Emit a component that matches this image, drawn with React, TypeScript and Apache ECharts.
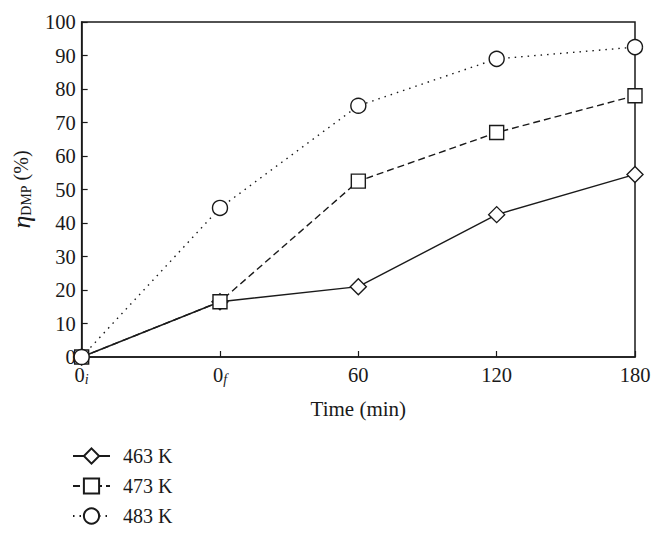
import React, { useEffect, useRef } from "react";
import * as echarts from "echarts";

const categories = ["0i", "0f", "60", "120", "180"];
const yTicks = [0, 100, 10];
const series463 = [0, 16.5, 21, 42.5, 54.5];
const series473 = [0, 16.5, 52.5, 67, 78];
const series483 = [0, 44.5, 75, 89, 92.5];
const seriesNames = ["463 K", "473 K", "483 K"];

const FONT = "Liberation Serif";
const INK = "#1a1a1a";

export default function App() {
  const ref = useRef<HTMLDivElement>(null);
  useEffect(() => {
    if (!ref.current) return;
    const chart = echarts.init(ref.current, undefined, { renderer: "svg" });
    const mk = (name: string, data: number[], symbol: string, size: number, type: any) => ({
      name,
      type: "line",
      data,
      symbol,
      symbolSize: size,
      showAllSymbol: true,
      clip: false,
      lineStyle: { color: INK, width: 1.4, type },
      itemStyle: { color: "#fff", borderColor: INK, borderWidth: 1.4 },
      emphasis: { disabled: true },
    });
    chart.setOption({
      animation: false,
      textStyle: { fontFamily: FONT, color: INK },
      grid: {
        left: 81.5,
        right: 26,
        top: 22,
        bottom: 181,
        show: true,
        borderColor: INK,
        borderWidth: 1.5,
        containLabel: false,
      },
      legend: {
        orient: "vertical",
        left: 72,
        top: 446,
        padding: 0,
        itemWidth: 37,
        itemHeight: 19,
        itemGap: 10,
        data: seriesNames,
        textStyle: { fontFamily: FONT, fontSize: 20, color: INK, padding: [0, 0, 0, 8] },
      },
      xAxis: {
        type: "category",
        data: categories,
        boundaryGap: false,
        name: "Time (min)",
        nameLocation: "middle",
        nameGap: 41,
        nameTextStyle: { fontFamily: FONT, fontSize: 21, color: INK },
        axisLine: { lineStyle: { color: INK, width: 1.5 } },
        axisTick: { inside: true, length: 6, lineStyle: { color: INK, width: 1.2 }, alignWithLabel: true },
        axisLabel: {
          margin: 7,
          interval: 0,
          fontFamily: FONT,
          fontSize: 20,
          color: INK,
          formatter: (v: string) => {
            if (v === "0i") return "{n|0}{s|i}";
            if (v === "0f") return "{n|0}{s|f}";
            return "{n|" + v + "}";
          },
          rich: {
            n: { fontFamily: FONT, fontSize: 20.5, lineHeight: 22, color: INK },
            s: { fontFamily: FONT, fontSize: 14, fontStyle: "italic", lineHeight: 12, verticalAlign: "bottom", color: INK },
          },
        },
        splitLine: { show: false },
      },
      yAxis: {
        type: "value",
        min: yTicks[0],
        max: yTicks[1],
        interval: yTicks[2],
        name: "{e|η}{d|DMP}{p| (%)}",
        nameLocation: "middle",
        nameGap: 45,
        nameTextStyle: {
          fontFamily: FONT,
          color: INK,
          rich: {
            e: { fontFamily: FONT, fontSize: 26, fontStyle: "italic", lineHeight: 24, color: INK },
            d: { fontFamily: FONT, fontSize: 14, lineHeight: 14, verticalAlign: "bottom", color: INK },
            p: { fontFamily: FONT, fontSize: 20, lineHeight: 24, color: INK },
          },
        },
        axisLine: { show: true, lineStyle: { color: INK, width: 1.5 } },
        axisTick: { show: true, inside: true, length: 6, lineStyle: { color: INK, width: 1.2 } },
        axisLabel: { margin: 6, fontFamily: FONT, fontSize: 20.5, color: INK },
        splitLine: { show: false },
      },
      series: [
        mk(seriesNames[0], series463, "diamond", 16, "solid"),
        mk(seriesNames[1], series473, "rect", 14, [7, 4]),
        mk(seriesNames[2], series483, "circle", 15, [1.5, 5]),
      ],
    });
    return () => chart.dispose();
  }, []);
  return (
    <div
      ref={ref}
      style={{ position: "fixed", left: 0, top: 0, width: 661, height: 538, background: "#fff" }}
    />
  );
}
